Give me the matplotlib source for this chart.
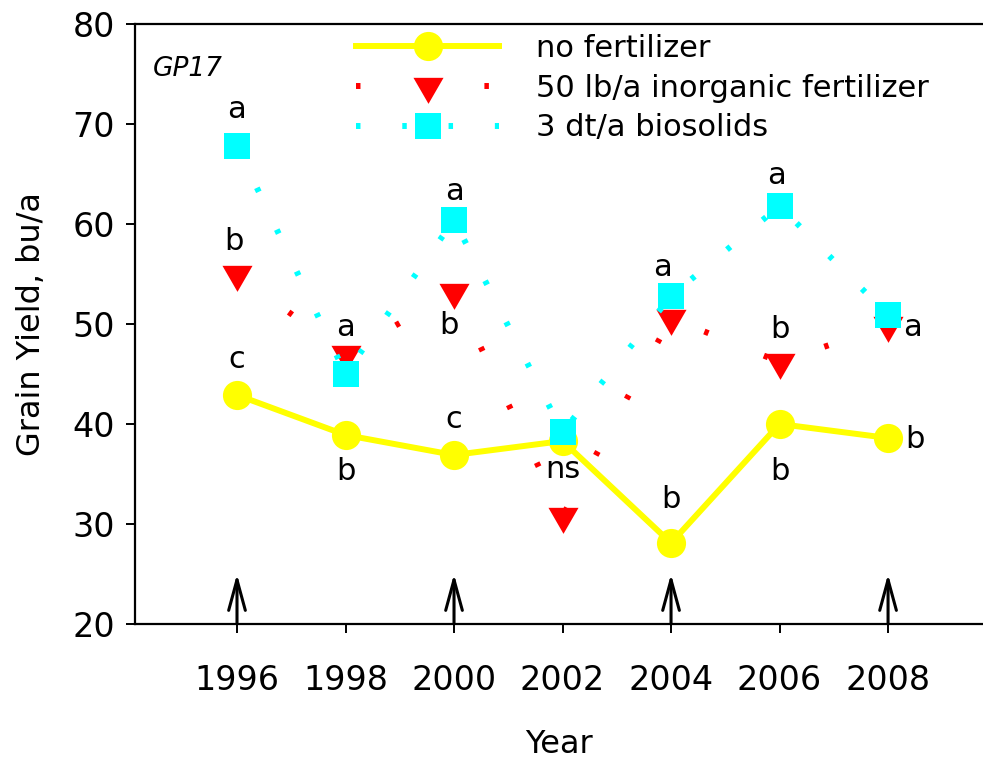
import matplotlib
matplotlib.use("Agg")
import matplotlib.pyplot as plt

plt.rcParams['font.family'] = ['DejaVu Sans']

years = [1996, 1998, 2000, 2002, 2004, 2006, 2008]
no_fert = [42.9, 38.9, 36.9, 38.3, 28.1, 40.0, 38.6]
inorganic = [55.0, 47.0, 53.2, 30.8, 50.6, 46.2, 49.9]
biosolids = [67.8, 45.0, 60.4, 39.2, 52.8, 61.8, 50.9]
series_labels = ["no fertilizer", "50 lb/a inorganic fertilizer", "3 dt/a biosolids"]

# significance letters: (year, y, text)
letter_x = [1996, 1996, 1996, 1998, 1998, 2000, 2000, 2000, 2002, 2004, 2004, 2006, 2006, 2006, 2008, 2008]
letter_y = [71.5, 58.2, 46.4, 49.6, 35.2, 63.2, 49.9, 40.4, 35.5, 55.6, 32.4, 64.8, 49.4, 35.2, 49.6, 38.4]
letter_t = ["a", "b", "c", "a", "b", "a", "b", "c", "ns", "a", "b", "a", "b", "b", "a", "b"]
letter_dx = [0, -0.05, 0, 0, 0, 0, -0.1, 0, 0, -0.15, 0, -0.05, 0, 0, 0.45, 0.5]

arrow_years = [1996, 2000, 2004, 2008]
arrow_from, arrow_to = 20, 25

fig = plt.figure(figsize=(9.83, 7.59), dpi=100)
ax = fig.add_axes([135/983, 135/759, 1 - 135/983, 600/759])

tri = [(-1, 0.577), (1, 0.577), (0, -1.155)]

ax.plot(years, no_fert, color='#ffff00', lw=4.3, marker='o', ms=21,
        markeredgewidth=0, label=series_labels[0], zorder=3)
ax.plot(years, inorganic, color='#ff0000', lw=4.3, linestyle=(0, (0.75, 10)),
        dash_capstyle='butt', marker=tri, ms=25, markeredgewidth=0,
        label=series_labels[1], zorder=4)
ax.plot(years, biosolids, color='#00ffff', lw=4.3, linestyle=(0, (0.75, 7)),
        dash_capstyle='butt', marker='s', ms=18.7, markeredgewidth=0,
        label=series_labels[2], zorder=5)

for x, y, t, dx in zip(letter_x, letter_y, letter_t, letter_dx):
    ax.text(x + dx, y, t, ha='center', va='center', fontsize=22, zorder=6)

for yr in arrow_years:
    ax.annotate('', xy=(yr, arrow_to), xytext=(yr, arrow_from),
                arrowprops=dict(arrowstyle='->,head_length=1.1,head_width=0.3',
                                lw=2.2, color='k', mutation_scale=20,
                                shrinkA=0, shrinkB=0), zorder=6)

ax.text(1994.45, 75.5, "GP17", fontsize=19, style='italic', ha='left', va='center')

ax.set_xlim(1994.12, 2009.75)
ax.set_ylim(20, 80)
ax.set_xticks(years)
ax.set_yticks([20, 30, 40, 50, 60, 70, 80])
ax.tick_params(axis='both', direction='out', length=6.5, width=1.4, labelsize=24)
ax.tick_params(axis='x', pad=22)
ax.tick_params(axis='y', pad=8)
ax.spines['right'].set_visible(False)
for s in ['left', 'top', 'bottom']:
    ax.spines[s].set_linewidth(1.6)

ax.set_xlabel("Year", fontsize=23, labelpad=23)
ax.set_ylabel("Grain Yield, bu/a", fontsize=23, labelpad=18)

leg = ax.legend(loc='upper left', bbox_to_anchor=(0.246, 1.004), frameon=False,
                fontsize=22, numpoints=1, handlelength=4.7, handletextpad=1.2,
                labelspacing=0.35, borderaxespad=0.0)

fig.savefig("out.png", dpi=100)
